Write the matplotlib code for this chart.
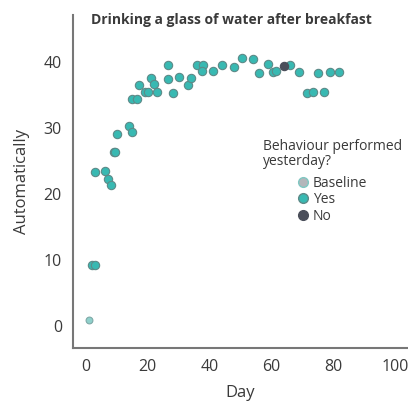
import matplotlib.pyplot as plt
from matplotlib.lines import Line2D

plt.rcParams['font.family'] = ['Open Sans', 'DejaVu Sans']

# days and automaticity scores
baseline_day = [1]
baseline_val = [1.0]

yes_day = [2, 3, 3, 6, 7, 8, 9, 9.5, 10, 14, 15, 15, 16.5, 17, 19, 20, 21, 22, 23,
           26.5, 26.5, 28, 30, 33, 34, 36, 38, 37.5, 41, 44, 48, 50.5, 54, 56, 59,
           60.5, 61.5, 66, 69, 71.5, 73.5, 75, 77, 79, 82]
yes_val = [9.2, 9.2, 23.3, 23.5, 22.3, 21.4, 26.4, 26.4, 29.1, 30.3, 29.4, 34.4, 34.4,
           36.5, 35.5, 35.5, 37.6, 36.7, 35.5, 39.5, 37.4, 35.3, 37.7, 36.5, 37.6,
           39.5, 39.5, 38.6, 38.6, 39.5, 39.2, 40.6, 40.5, 38.3, 39.7, 38.5, 38.6,
           39.5, 38.5, 35.3, 35.5, 38.3, 35.5, 38.5, 38.5]

no_day = [64]
no_val = [39.4]

xticks = [0, 20, 40, 60, 80, 100]
yticks = [0, 10, 20, 30, 40]

teal = '#38b9b2'
edge = '#5d8a88'
txt = '#3a3a3a'

fig = plt.figure(figsize=(4.08, 4.03), dpi=100)
ax = fig.add_axes([0.179, 0.1365, 0.821, 0.826])

ax.scatter(baseline_day, baseline_val, s=24, c='#8fd0cb', edgecolors='#7fa9a7', linewidths=0.8, zorder=3)
ax.scatter(yes_day, yes_val, s=36, c=teal, edgecolors=edge, linewidths=0.8, zorder=3)
ax.scatter(no_day, no_val, s=36, c='#4a4e5a', edgecolors='#4a4e5a', linewidths=0.8, zorder=3)

ax.set_xlim(-4.2, 104.2)
ax.set_ylim(-3.3, 47.1)
ax.set_xticks(xticks)
ax.set_yticks(yticks)
ax.tick_params(length=0, labelsize=11.5, colors=txt)
ax.tick_params(axis='x', pad=8)
ax.tick_params(axis='y', pad=8)

for side in ['top', 'right']:
    ax.spines[side].set_visible(False)
for side in ['left', 'bottom']:
    ax.spines[side].set_color('#777777')
    ax.spines[side].set_linewidth(1.5)

ax.set_xlabel('Day', fontsize=12, color=txt, labelpad=7)
ax.set_ylabel('Automatically', fontsize=12, color=txt, labelpad=10)

fig.text(91 / 408, 1 - 20 / 403, 'Drinking a glass of water after breakfast',
         fontsize=10, fontweight='bold', color=txt, va='center', ha='left')

fig.text(263 / 408, 1 - 154 / 403, 'Behaviour performed\nyesterday?', fontsize=10,
         color=txt, va='center', ha='left', linespacing=1.0)

handles = [
    Line2D([], [], ls='', marker='o', ms=7, mfc='#b4b6ba', mec='#7fc7c2', label='Baseline'),
    Line2D([], [], ls='', marker='o', ms=7, mfc=teal, mec=edge, label='Yes'),
    Line2D([], [], ls='', marker='o', ms=7, mfc='#4a4e5a', mec='#4a4e5a', label='No'),
]
fig.legend(handles=handles, loc='upper left', bbox_to_anchor=(289 / 408, 1 - 169 / 403),
           frameon=False, fontsize=10, handletextpad=0.2, labelspacing=0.1,
           borderpad=0, handlelength=1.0, labelcolor=txt)

fig.savefig('out.png', dpi=100)
